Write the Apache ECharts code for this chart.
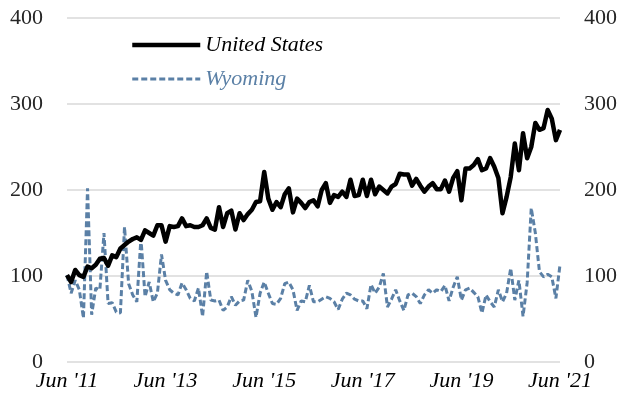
<!DOCTYPE html>
<html><head><meta charset="utf-8">
<script src="https://cdn.jsdelivr.net/npm/echarts@6/dist/echarts.min.js"></script>
<style>html,body{margin:0;padding:0;background:#fff}#c{width:623px;height:408px}</style>
</head><body><div id="c"></div>
<script>
// Monthly categories Jun 2011 .. Jun 2021
var startYear = 2011, startMonth = 6, nMonths = 121;
var months = [];
for (var k = 0; k < nMonths; k++) {
  var m = (startMonth - 1 + k) % 12 + 1;
  var y = startYear + Math.floor((startMonth - 1 + k) / 12);
  months.push(y + '-' + (m < 10 ? '0' + m : m));
}
var tickLabels = ["Jun '11", "Jun '13", "Jun '15", "Jun '17", "Jun '19", "Jun '21"];
var yTicks = [0, 100, 200, 300, 400];
var seriesNames = ['United States', 'Wyoming'];

var unitedStates = [101,93,107,101,99,111,109,113,120,121,
112,124,122,132,136,140,143,145,142,153,
150,147,159,159,140,158,157,158,167,158,
159,157,157,159,167,156,154,180,157,173,
176,154,173,165,172,177,186,187,221,190,
177,186,180,195,202,174,190,185,179,186,
188,181,200,208,185,194,192,198,192,212,
193,194,212,193,212,195,204,200,196,204,
207,219,218,218,205,213,205,198,204,208,
201,201,211,198,214,222,188,225,225,229,
236,223,225,237,227,214,173,192,215,254,
223,266,237,250,278,270,272,293,283,258,
270];

var wyoming = [101,80,95,84,51,202,55,86,84,150,
68,69,58,57,157,91,78,70,144,76,
93,70,80,125,95,84,80,78,92,84,
74,71,86,53,105,72,71,72,60,64,
76,66,71,72,95,82,52,80,93,80,
68,67,74,91,93,84,60,71,70,89,
70,70,73,76,74,70,61,73,80,78,
73,71,71,62,90,80,87,103,64,73,
84,71,60,78,80,76,68,78,84,80,
84,82,89,71,87,99,72,84,86,81,
76,57,78,70,64,84,70,80,109,72,
95,53,92,179,150,105,99,102,99,74,
113];

var FONT = '"Liberation Serif", "DejaVu Serif", serif';
var blue = '#5b80a6';
var chart = echarts.init(document.getElementById('c'));
function yAx(pos, split) {
  return {
    type: 'value', position: pos, min: yTicks[0], max: yTicks[yTicks.length - 1], interval: 100,
    axisLine: {show: false}, axisTick: {show: false},
    splitLine: {show: split, lineStyle: {color: '#d9d9d9', width: 1.5}},
    axisLabel: {fontFamily: FONT, fontSize: 22, color: '#262626', margin: 24}
  };
}
chart.setOption({
  animation: false,
  grid: {left: 67, right: 63, top: 18, bottom: 46},
  legend: {
    orient: 'vertical', left: 125, top: 28, itemGap: 10, itemWidth: 68, itemHeight: 14,
    itemStyle: {opacity: 0},
    textStyle: {fontFamily: FONT, fontSize: 22, fontStyle: 'italic', lineHeight: 24},
    data: [
      {name: seriesNames[0], textStyle: {color: '#000'},
       lineStyle: {color: '#000', width: 4.5, type: 'solid'}},
      {name: seriesNames[1], textStyle: {color: blue},
       lineStyle: {color: blue, width: 3, type: [6, 3]}}
    ]
  },
  xAxis: {
    type: 'category', data: months, boundaryGap: false,
    axisLine: {show: false}, axisTick: {show: false},
    axisLabel: {
      interval: 23, fontFamily: FONT, fontSize: 22, fontStyle: 'italic', color: '#000', margin: 8,
      formatter: function (v, i) { return tickLabels[Math.round(i / 24)] || ''; }
    }
  },
  yAxis: [yAx('left', true), yAx('right', false)],
  series: [
    {name: seriesNames[0], type: 'line', data: unitedStates, symbol: 'none', yAxisIndex: 0,
     lineStyle: {color: '#000', width: 4.5, join: 'round'}, itemStyle: {color: '#000'}, z: 3},
    {name: seriesNames[1], type: 'line', data: wyoming, symbol: 'none', yAxisIndex: 0,
     lineStyle: {color: blue, width: 3, type: [6, 3]}, itemStyle: {color: blue}, z: 2}
  ]
});
</script></body></html>
